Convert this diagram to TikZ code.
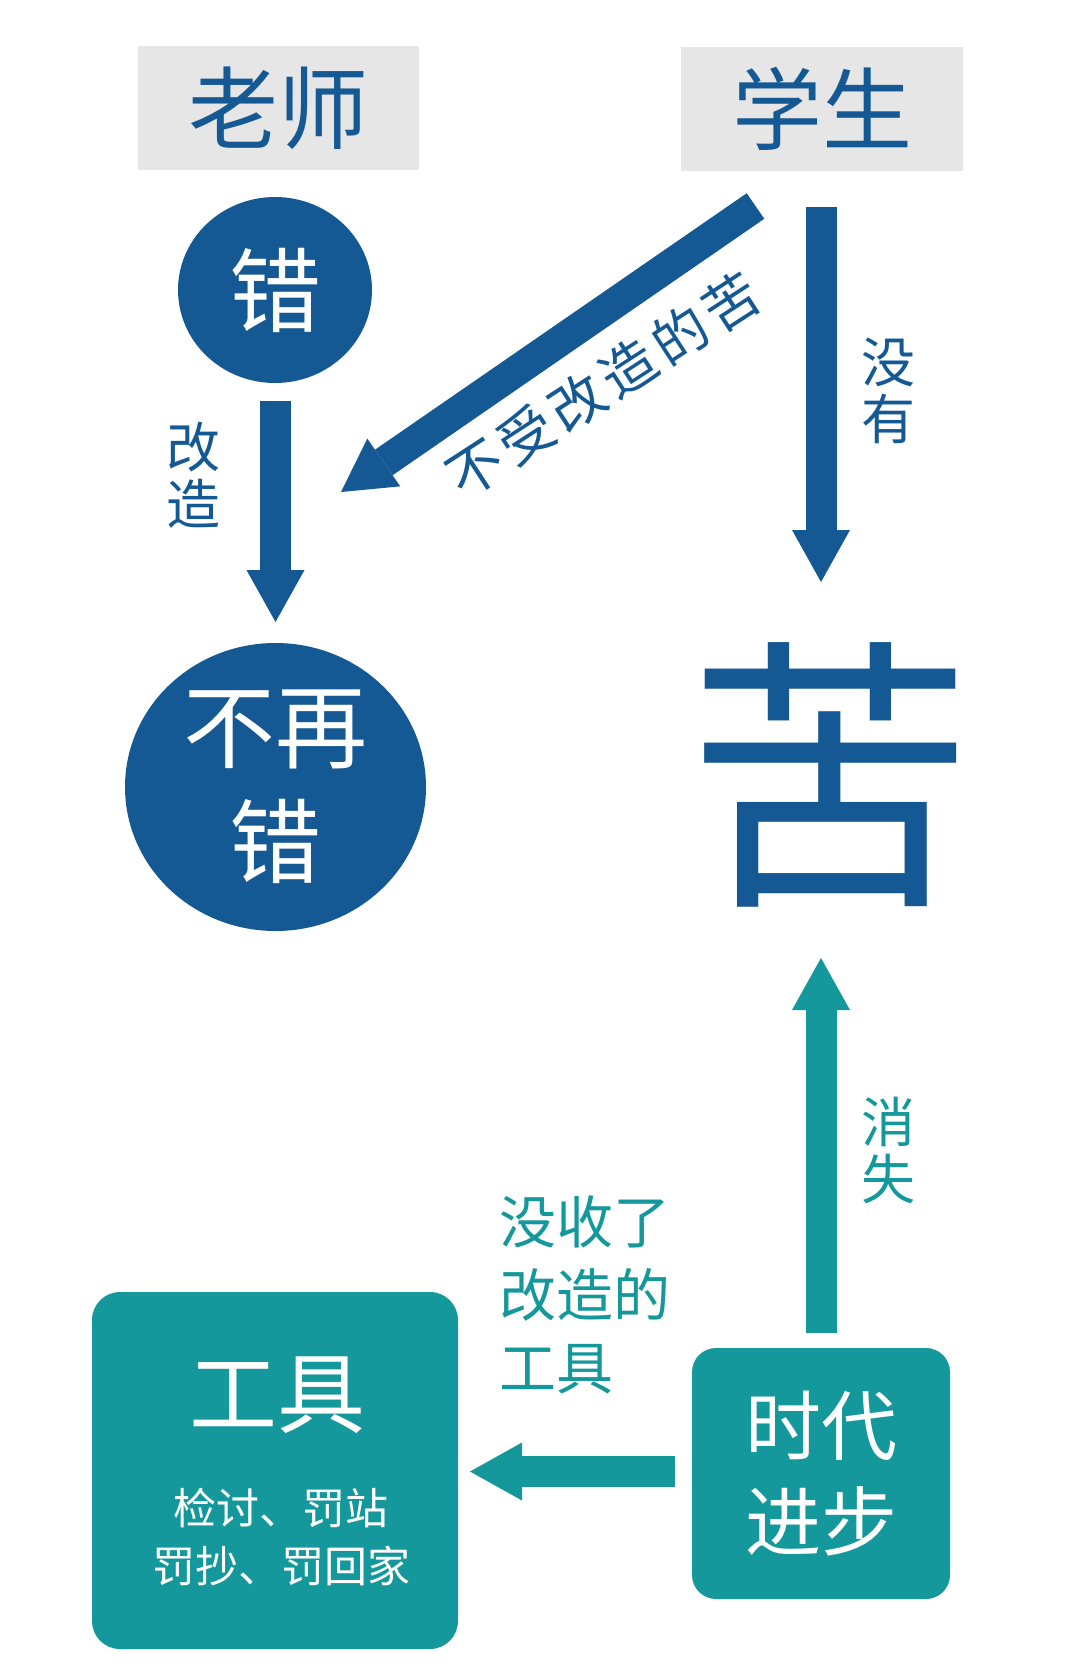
\documentclass[tikz,border=0pt]{standalone}
\usepackage{fontspec}
\setmainfont{Noto Sans CJK SC}
\usetikzlibrary{arrows.meta,shapes.geometric}
\definecolor{navy}{RGB}{21,89,148}
\definecolor{tealc}{RGB}{20,152,155}
\definecolor{lgray}{RGB}{230,230,230}
\tikzset{
  fsz/.style 2 args={font=\fontsize{#1pt}{#2pt}\selectfont},
  graybox/.style={fill=lgray, text=navy, inner sep=0pt},
  blob/.style={ellipse, fill=navy, text=white, inner sep=0pt, align=center},
  tealbox/.style={fill=tealc, text=white, inner sep=0pt, align=center},
  lbl/.style={inner sep=0pt, align=center},
  fatarrow/.style={line width=31pt, -{Triangle[length=52pt,width=58pt,line width=0pt]}}
}
\begin{document}
\begin{tikzpicture}[x=1pt,y=-1pt]
\useasboundingbox (0,0) rectangle (1080,1679);
% top boxes
\node[graybox, minimum width=281pt, minimum height=124pt, fsz={90}{90}] (laoshi) at (278.5,108) {老师};
\node[graybox, minimum width=282pt, minimum height=124pt, fsz={90}{90}] (xuesheng) at (822,108.5) {学生};
% circles
\node[blob, minimum width=194pt, minimum height=186pt, fsz={92}{92}] (cuo) at (275,290) {错};
\node[blob, minimum width=301pt, minimum height=288pt, fsz={92}{115}] (buzaicuo) at (275.5,787) {不再\\错};
% ku
\node[lbl, text=navy, fsz={288}{288}] (ku) at (830,775) {苦};
% teal boxes
\node[tealbox, rounded corners=28pt, minimum width=366pt, minimum height=357pt] (gongju) at (275,1470.5) {};
\node[lbl, text=white, fsz={88}{88}] (gjtitle) at (277,1395) {工具};
\node[lbl, text=white, fsz={43}{58}] (gjlist) at (281,1537) {检讨、罚站\\罚抄、罚回家};
\node[tealbox, rounded corners=24pt, minimum width=258pt, minimum height=251pt, fsz={76}{96}] (shidai) at (821,1473.5) {时代\\进步};
% labels
\node[lbl, text=navy, fsz={54}{57}] (lgaizao) at (193,475) {改\\造};
\node[lbl, text=navy, fsz={54}{57}] (lmeiyou) at (888,391) {没\\有};
\node[lbl, text=tealc, fsz={54}{57}] (lxiaoshi) at (888,1150) {消\\失};
\node[lbl, text=tealc, align=left, anchor=west, fsz={57}{73}] (lmoshou) at (499,1295) {没收了\\改造的\\工具};
\node[lbl, text=navy, rotate=33, fsz={55}{55}] (lbushou) at (603,385) {不\hspace{6pt}受\hspace{6pt}改\hspace{6pt}造\hspace{6pt}的\hspace{6pt}苦};
% arrows
\coordinate (a1s) at (275.5,401); \coordinate (a1e) at (275.5,622);
\draw[fatarrow, color=navy] (a1s) -- (a1e);
\coordinate (a2s) at (821,207); \coordinate (a2e) at (821,582);
\draw[fatarrow, color=navy] (a2s) -- (a2e);
\coordinate (a3s) at (755.5,206); \coordinate (a3e) at (341,492);
\draw[fatarrow, color=navy] (a3s) -- (a3e);
\coordinate (a4s) at (821,1333); \coordinate (a4e) at (821,958);
\draw[fatarrow, color=tealc] (a4s) -- (a4e);
\coordinate (a5s) at (675,1471.5); \coordinate (a5e) at (470,1471.5);
\draw[fatarrow, color=tealc] (a5s) -- (a5e);
\end{tikzpicture}
\end{document}
